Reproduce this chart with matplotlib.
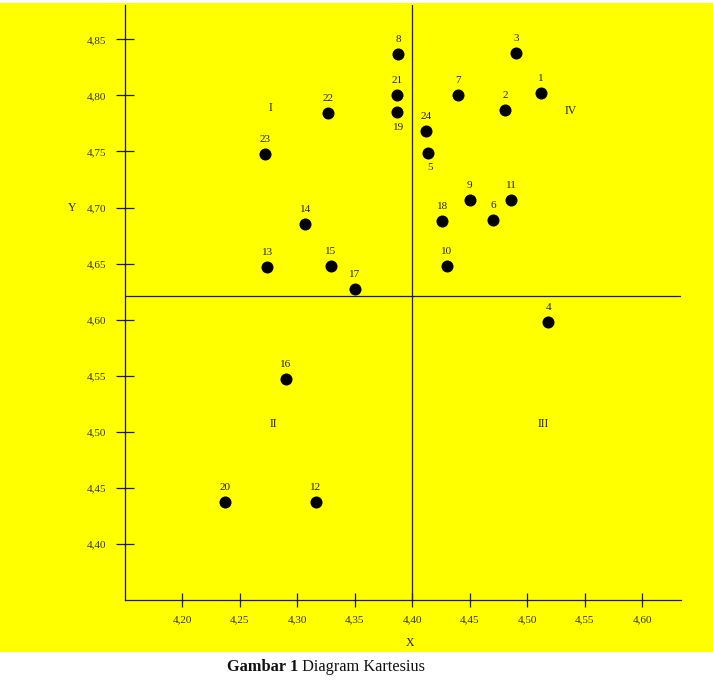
import matplotlib
matplotlib.use("Agg")
import matplotlib.pyplot as plt
from matplotlib.patches import Rectangle
from matplotlib.ticker import FixedLocator, FuncFormatter

# ---- data ----
point_ids = ["1", "2", "3", "4", "5", "6", "7", "8", "9", "10", "11", "12",
             "13", "14", "15", "16", "17", "18", "19", "20", "21", "22", "23", "24"]
x_vals = [4.512, 4.481, 4.490, 4.518, 4.414, 4.470, 4.440, 4.388, 4.450, 4.430, 4.486, 4.316,
          4.274, 4.307, 4.329, 4.290, 4.350, 4.426, 4.387, 4.237, 4.387, 4.327, 4.272, 4.412]
y_vals = [4.802, 4.787, 4.838, 4.598, 4.749, 4.689, 4.800, 4.837, 4.707, 4.648, 4.707, 4.437,
          4.647, 4.685, 4.648, 4.547, 4.627, 4.688, 4.785, 4.437, 4.800, 4.784, 4.748, 4.768]
x_ticks = [4.20, 4.25, 4.30, 4.35, 4.40, 4.45, 4.50, 4.55, 4.60]
y_ticks = [4.40, 4.45, 4.50, 4.55, 4.60, 4.65, 4.70, 4.75, 4.80, 4.85]
x_mean = 4.40
y_mean = 4.621
quadrant_names = ["I", "II", "III", "IV"]
quadrant_x = [4.277, 4.279, 4.514, 4.538]
quadrant_y = [4.789, 4.507, 4.507, 4.786]
labels_below = {"19", "5"}
x_title = "X"
y_title = "Y"
caption_bold = "Gambar 1"
caption_rest = " Diagram Kartesius"

plt.rcParams['font.family'] = ['Liberation Serif', 'DejaVu Serif']

W, H = 713, 681
fig = plt.figure(figsize=(W / 100, H / 100), dpi=100, facecolor='white')
bg = Rectangle((0, (H - 652) / H), 1, (652 - 3) / H,
               transform=fig.transFigure, facecolor='#ffff00',
               edgecolor='none', zorder=-10)
fig.add_artist(bg)

ax = fig.add_axes([125 / W, (H - 600) / H, 556 / W, 595 / H])
ax.set_zorder(1)
ax.set_facecolor('none')
ax.set_xlim(4.1504, 4.6335)
ax.set_ylim(4.35, 4.8806)

line_col = '#1a1a1a'
for s in ['top', 'right']:
    ax.spines[s].set_visible(False)
for s in ['left', 'bottom']:
    ax.spines[s].set_color(line_col)
    ax.spines[s].set_linewidth(0.9)

fmt = FuncFormatter(lambda v, p: f"{v:.2f}".replace('.', ','))
ax.xaxis.set_major_locator(FixedLocator(x_ticks))
ax.yaxis.set_major_locator(FixedLocator(y_ticks))
ax.xaxis.set_major_formatter(fmt)
ax.yaxis.set_major_formatter(fmt)
ax.tick_params(axis='x', direction='inout', length=10.5, width=0.9, color=line_col,
               labelsize=8, labelcolor='#333300', pad=6)
ax.tick_params(axis='y', direction='inout', length=12.5, width=0.9, color=line_col,
               labelsize=8, labelcolor='#333300', pad=7)

ax.axvline(x_mean, color=line_col, lw=0.9, zorder=1)
ax.axhline(y_mean, color=line_col, lw=0.9, zorder=1)

ax.scatter(x_vals, y_vals, s=75, color='black', zorder=3, linewidths=0)
for pid, x, y in zip(point_ids, x_vals, y_vals):
    if pid in labels_below:
        ax.annotate(pid, (x, y), xytext=(1, -11), textcoords='offset points',
                    ha='center', va='center', fontsize=8, color='#222200')
    else:
        ax.annotate(pid, (x, y), xytext=(0, 10.5), textcoords='offset points',
                    ha='center', va='center', fontsize=8, color='#222200')

for name, qx, qy in zip(quadrant_names, quadrant_x, quadrant_y):
    ax.text(qx, qy, name, ha='center', va='center', fontsize=8.5, color='#222200')

ax.text((72 - 125) / 556, (600 - 208) / 595, y_title, transform=ax.transAxes,
        ha='center', va='center', fontsize=8.5, color='#222200')
ax.text((410 - 125) / 556, (600 - 643) / 595, x_title, transform=ax.transAxes,
        ha='center', va='center', fontsize=8.5, color='#222200')

t = fig.text(227 / W, (H - 667) / H, caption_bold, ha='left', va='center',
             fontsize=11.8, fontweight='bold', color='#111111')
ax.annotate(caption_rest, xy=(1, 0), xycoords=t, ha='left', va='bottom',
            fontsize=11.8, color='#111111', annotation_clip=False)

fig.savefig('out.png', dpi=100, facecolor='white')
